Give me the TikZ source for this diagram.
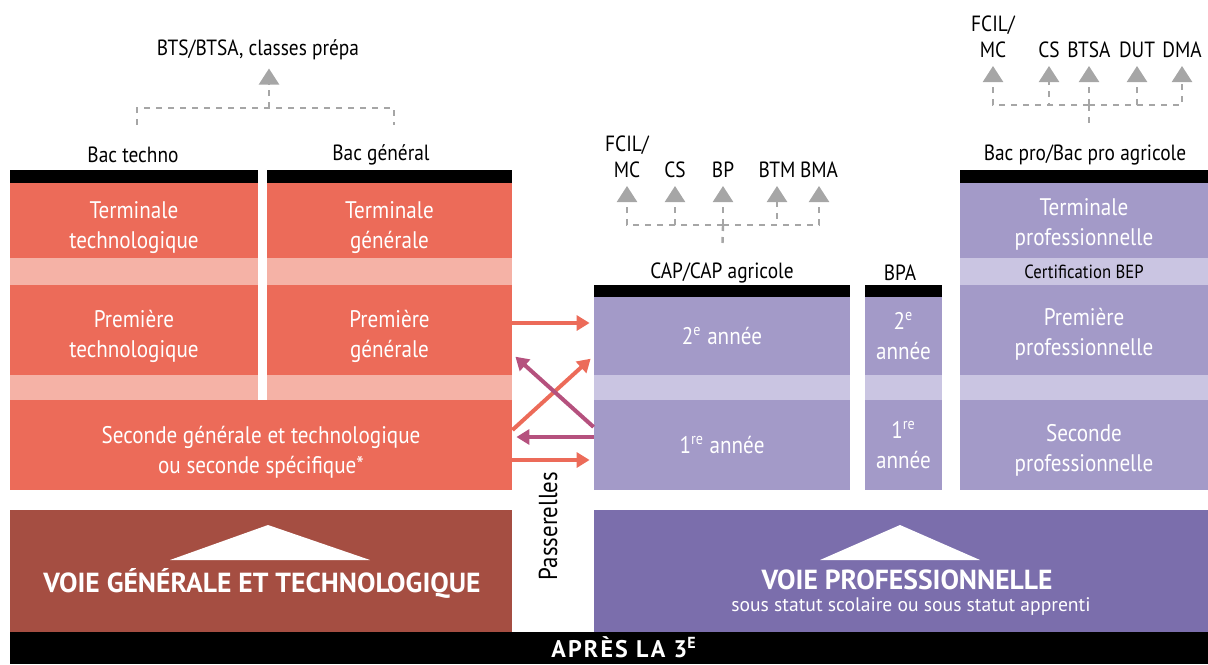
\documentclass[tikz,border=0pt]{standalone}
\usepackage{fontspec}
\setmainfont{PT Sans}
\newfontfamily\etroit{PT Sans}[FakeStretch=0.88]
\usetikzlibrary{arrows.meta}
\definecolor{rouge}{HTML}{EC6B59}
\definecolor{rose}{HTML}{F5B2A6}
\definecolor{mauve}{HTML}{A39AC8}
\definecolor{lilas}{HTML}{CAC5E2}
\definecolor{brique}{HTML}{A54E42}
\definecolor{violet}{HTML}{7B6EAC}
\definecolor{prune}{HTML}{B5517E}
\definecolor{gris}{HTML}{A6A6A6}

\begin{document}
\begin{tikzpicture}[x=0.5pt,y=-0.5pt,
	bloc/.style={shape=rectangle, inner sep=0pt, align=center, text=white, font=\etroit\fontsize{12}{15}\selectfont},
	deux/.style={execute at begin node={\rule{0pt}{#1}}},
	rougebox/.style={bloc, fill=rouge},
	rosebox/.style={bloc, fill=rose},
	mauvebox/.style={bloc, fill=mauve},
	lilasbox/.style={bloc, fill=lilas, text=black, font=\etroit\fontsize{9.5}{10}\selectfont},
	barre/.style={shape=rectangle, inner sep=0pt, fill=black},
	etiq/.style={inner sep=0pt, align=center, font=\etroit\fontsize{11}{13}\selectfont},
	titre/.style={inner sep=0pt, text=white, font=\bfseries\fontsize{13.8}{15}\selectfont},
	pointille/.style={draw=gris, line width=1.2pt, dash pattern=on 3pt off 3pt},
	fleche/.style={pointille, -{Triangle[width=10pt,length=8pt]}, shorten >=4pt},
	passe/.style={line width=2pt, -{Triangle[width=7.5pt,length=6.5pt]}, shorten >=2pt},
	]	% Boxes, labels and arrows:
			\useasboundingbox (0,0) rectangle (1208,664);
			% voie generale et technologique
			\node[barre, minimum width=124pt, minimum height=6.5pt] (barT) at (134,176.5) {};
			\node[rougebox, deux=30.5pt, minimum width=124pt, minimum height=37.5pt] (termT) at (134,220.5) {Terminale\\technologique};
			\node[rosebox, minimum width=124pt, minimum height=13.5pt] (bandT1) at (134,271.5) {};
			\node[rougebox, deux=30.5pt, minimum width=124pt, minimum height=45pt] (premT) at (134,330) {Première\\technologique};
			\node[rosebox, minimum width=124pt, minimum height=12.5pt] (bandT2) at (134,387.5) {};
			\node[barre, minimum width=122.5pt, minimum height=6.5pt] (barG) at (389.5,176.5) {};
			\node[rougebox, deux=30.5pt, minimum width=122.5pt, minimum height=37.5pt] (termG) at (389.5,220.5) {Terminale\\générale};
			\node[rosebox, minimum width=122.5pt, minimum height=13.5pt] (bandG1) at (389.5,271.5) {};
			\node[rougebox, deux=30.5pt, minimum width=122.5pt, minimum height=45pt] (premG) at (389.5,330) {Première\\générale};
			\node[rosebox, minimum width=122.5pt, minimum height=12.5pt] (bandG2) at (389.5,387.5) {};
			\node[rougebox, deux=30.5pt, minimum width=251pt, minimum height=45pt] (seconde) at (261,445) {Seconde générale et technologique\\ou seconde spécifique*};
			\node[etiq] (bactech) at (133,155) {Bac techno};
			\node[etiq] (bacgen) at (381,155) {Bac général};
			\node[etiq] (bts) at (258,50) {BTS/BTSA, classes prépa};
			% CAP et BPA
			\node[barre, minimum width=128pt, minimum height=6pt] (barC) at (722,291) {};
			\node[mauvebox, minimum width=128pt, minimum height=39pt] (cap2) at (722,336) {2\textsuperscript{e} année};
			\node[bloc, fill=lilas, minimum width=128pt, minimum height=12.5pt] (bandC) at (722,387.5) {};
			\node[mauvebox, minimum width=128pt, minimum height=45pt] (cap1) at (722,445) {1\textsuperscript{re} année};
			\node[barre, minimum width=38.5pt, minimum height=6pt] (barB) at (903.5,291) {};
			\node[mauvebox, minimum width=38.5pt, minimum height=39pt] (bpa2) at (903.5,336) {2\textsuperscript{e}\\année};
			\node[bloc, fill=lilas, minimum width=38.5pt, minimum height=12.5pt] (bandB) at (903.5,387.5) {};
			\node[mauvebox, minimum width=38.5pt, minimum height=45pt] (bpa1) at (903.5,445) {1\textsuperscript{re}\\année};
			\node[etiq] (caplab) at (722,273) {CAP/CAP agricole};
			\node[etiq] (bpalab) at (900,273) {BPA};
			\node[etiq, anchor=south] (mc1) at (627,178) {FCIL/\\MC};
			\node[etiq, anchor=south] (cs1) at (675,178) {CS};
			\node[etiq, anchor=south] (bp1) at (723,178) {BP};
			\node[etiq, anchor=south] (btm1) at (777,178) {BTM};
			\node[etiq, anchor=south] (bma1) at (819,178) {BMA};
			% bac pro
			\node[barre, minimum width=124pt, minimum height=6.5pt] (barP) at (1084,176.5) {};
			\node[mauvebox, deux=27.6pt, minimum width=124pt, minimum height=37.5pt] (termP) at (1084,220.5) {Terminale\\professionnelle};
			\node[lilasbox, minimum width=124pt, minimum height=13.5pt] (bep) at (1084,271.5) {Certification BEP};
			\node[mauvebox, deux=27.6pt, minimum width=124pt, minimum height=45pt] (premP) at (1084,330) {Première\\professionnelle};
			\node[bloc, fill=lilas, minimum width=124pt, minimum height=12.5pt] (bandP) at (1084,387.5) {};
			\node[mauvebox, deux=28.6pt, minimum width=124pt, minimum height=45pt] (secP) at (1084,445) {Seconde\\professionnelle};
			\node[etiq] (bacpro) at (1085,155) {Bac pro/Bac pro agricole};
			\node[etiq, anchor=south] (mc2) at (993,58) {FCIL/\\MC};
			\node[etiq, anchor=south] (cs2) at (1049,58) {CS};
			\node[etiq, anchor=south] (btsa2) at (1089,58) {BTSA};
			\node[etiq, anchor=south] (dut2) at (1137,58) {DUT};
			\node[etiq, anchor=south] (dma2) at (1182,58) {DMA};
			% bas
			\node[bloc, fill=brique, minimum width=251pt, minimum height=61pt] (voieG) at (261,571) {};
			\node[bloc, fill=violet, minimum width=307pt, minimum height=61pt] (voieP) at (901,571) {};
			\fill[white] (170,560) -- (268,525) -- (370,560) -- cycle;
			\fill[white] (820,560) -- (900,525) -- (980,560) -- cycle;
			\node[titre] (titreG) at (262,583) {VOIE GÉNÉRALE ET TECHNOLOGIQUE};
			\node[titre] (titreP) at (907,580) {VOIE PROFESSIONNELLE};
			\node[inner sep=0pt, text=white, font=\fontsize{9.8}{12}\selectfont] (statut) at (911,607) {sous statut scolaire ou sous statut apprenti};
			\node[barre, minimum width=599pt, minimum height=16pt] (apres) at (609,648) {};
			\node[titre, anchor=base, font=\bfseries\fontsize{12}{14}\selectfont\addfontfeature{LetterSpace=9}] (apreslab) at (624,657) {APRÈS LA 3\textsuperscript{E}};
			\node[etiq, rotate=90, font=\etroit\fontsize{13}{15}\selectfont] (passerelles) at (548,526) {Passerelles};
			% pointilles
			\coordinate (jG) at (269,108);
			\coordinate (jC) at (723,225);
			\coordinate (jP) at (1089,105);
			\draw[pointille] (137,125) |- (jG) -| (394,125);
			\draw[fleche] (jG) -- (jG |- bts.south);
			\draw[pointille] (jC) -- (caplab.north) [shorten >=9pt];
			\foreach \n in {mc1,cs1,bp1,btm1,bma1}
				\draw[fleche] (jC) -| (\n.south);
			\draw[pointille] (jP) -- (jP |- bacpro.north) [shorten >=9pt];
			\foreach \n in {mc2,cs2,btsa2,dut2,dma2}
				\draw[fleche] (jP) -| (\n.south);
			% passerelles
			\draw[passe, rouge] ([yshift=3.5pt]premG.east) -- ([yshift=3.5pt]premG.east -| cap2.west);
			\draw[passe, rouge] ([yshift=7.5pt]seconde.east) -- ([yshift=-10pt]cap2.west);
			\draw[passe, prune] ([yshift=9pt]cap1.west) -- ([yshift=-12pt]premG.east);
			\draw[passe, prune] ([yshift=4pt]cap1.west) -- ([yshift=4pt]cap1.west -| seconde.east);
			\draw[passe, rouge] ([yshift=-7.5pt]seconde.east) -- ([yshift=-7.5pt]seconde.east -| cap1.west);
		\end{tikzpicture}
\end{document}
